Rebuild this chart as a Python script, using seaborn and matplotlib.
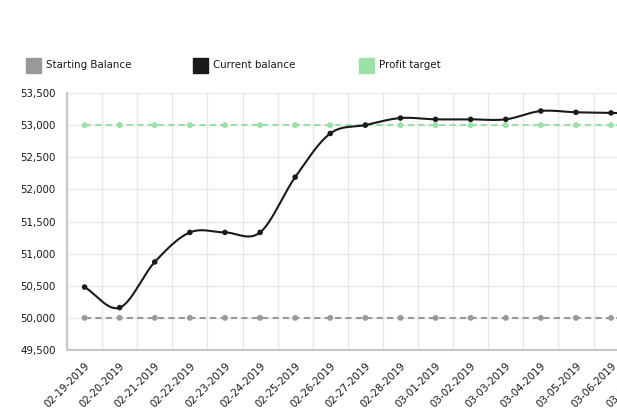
import numpy as np
import pandas as pd
import matplotlib
matplotlib.use("Agg")
import matplotlib.pyplot as plt
from matplotlib.patches import Rectangle
import seaborn as sns

# ---- data ----
dates = ["02-19-2019", "02-20-2019", "02-21-2019", "02-22-2019", "02-23-2019",
         "02-24-2019", "02-25-2019", "02-26-2019", "02-27-2019", "02-28-2019",
         "03-01-2019", "03-02-2019", "03-03-2019", "03-04-2019", "03-05-2019",
         "03-06-2019", "03-07-2019"]
current_balance = [50480, 50160, 50870, 51330, 51330, 51330, 52190, 52870, 53000,
                   53110, 53090, 53090, 53090, 53220, 53200, 53190, 53180]
starting_balance = [50000] * len(dates)
profit_target = [53000] * len(dates)
series_names = ["Starting Balance", "Current balance", "Profit target"]
y_ticks = [49500, 50000, 50500, 51000, 51500, 52000, 52500, 53000, 53500]

# ---- style ----
sns.set_theme(style="white")
plt.rcParams["font.family"] = ["DejaVu Sans"]
FS = 7.4
TXT = "#1a1a1a"
GRAY = "#999999"
BLACK = "#1a1a1a"
GREEN = "#9be0a4"
GRID = "#e8e8e8"
AXIS = "#c8c8c8"

idx = np.arange(len(dates))
df = pd.DataFrame({"i": idx, "date": dates, "current": current_balance,
                   "start": starting_balance, "target": profit_target})


def catmull_rom(x, y, per_seg=60):
    x = np.asarray(x, float)
    y = np.asarray(y, float)
    n = len(y)
    m = np.zeros(n)
    m[1:-1] = (y[2:] - y[:-2]) / 2.0
    m[0] = y[1] - y[0]
    m[-1] = y[-1] - y[-2]
    xs_all, ys_all = [], []
    for k in range(n - 1):
        t = np.linspace(0, 1, per_seg, endpoint=(k == n - 2))
        h00 = 2 * t ** 3 - 3 * t ** 2 + 1
        h10 = t ** 3 - 2 * t ** 2 + t
        h01 = -2 * t ** 3 + 3 * t ** 2
        h11 = t ** 3 - t ** 2
        xs_all.append(x[k] + t * (x[k + 1] - x[k]))
        ys_all.append(h00 * y[k] + h10 * m[k] + h01 * y[k + 1] + h11 * m[k + 1])
    return np.concatenate(xs_all), np.concatenate(ys_all)


sx, sy = catmull_rom(idx, current_balance)
smooth = pd.DataFrame({"x": sx, "y": sy})

W, H = 617, 415
fig = plt.figure(figsize=(W / 100, H / 100), dpi=100)
step = 35.1
ax = fig.add_axes([67 / W, 65 / H, len(dates) * step / W, 257 / H])

# reference lines
sns.lineplot(data=df, x="i", y="start", ax=ax, color=GRAY, lw=1.5, zorder=3)
ax.lines[-1].set_dashes((3, 2))
sns.scatterplot(data=df, x="i", y="start", ax=ax, color=GRAY, s=18,
                edgecolor="none", zorder=4)
sns.lineplot(data=df, x="i", y="target", ax=ax, color=GREEN, lw=1.5, zorder=3)
ax.lines[-1].set_dashes((3, 2))
sns.scatterplot(data=df, x="i", y="target", ax=ax, color=GREEN, s=18,
                edgecolor="none", zorder=4)
# current balance (smoothed)
sns.lineplot(data=smooth, x="x", y="y", ax=ax, color=BLACK, lw=1.5, zorder=5,
             sort=False)
sns.scatterplot(data=df, x="i", y="current", ax=ax, color=BLACK, s=16,
                edgecolor="none", zorder=6)

ax.set_xlim(-0.5, len(dates) - 0.5)
ax.set_ylim(49500, 53500)
ax.set_yticks(y_ticks)
ax.set_yticklabels([f"{v:,}" for v in y_ticks], fontsize=FS, color=TXT)
ax.set_xticks(idx)
ax.set_xticklabels(dates, rotation=45, ha="right", va="top",
                   rotation_mode="anchor", fontsize=FS, color=TXT)
ax.set_xticks(np.arange(-0.5, len(dates), 1), minor=True)
ax.set_xlabel("")
ax.set_ylabel("")

ax.grid(False)
ax.grid(True, which="major", axis="y", color=GRID, lw=1)
ax.grid(True, which="minor", axis="x", color=GRID, lw=1)
ax.set_axisbelow(True)
ax.tick_params(axis="x", which="major", length=5, width=1, color=AXIS, pad=3)
ax.tick_params(axis="x", which="minor", length=0)
ax.tick_params(axis="y", length=5, width=1, color=AXIS, pad=3)
for s in ["top", "right"]:
    ax.spines[s].set_visible(False)
for s in ["left", "bottom"]:
    ax.spines[s].set_color(AXIS)
    ax.spines[s].set_linewidth(1.5)

# legend (manual, top row)
legend_colors = [GRAY, BLACK, GREEN]
legend_x = [26, 193, 359]
for name, col, lx in zip(series_names, legend_colors, legend_x):
    fig.patches.append(Rectangle((lx / W, (H - 73) / H), 15 / W, 15 / H,
                                 transform=fig.transFigure, color=col,
                                 figure=fig))
    fig.text((lx + 20) / W, (H - 65.5) / H, name, fontsize=FS, color=TXT,
             va="center", ha="left")

fig.savefig("out.png", dpi=100)
